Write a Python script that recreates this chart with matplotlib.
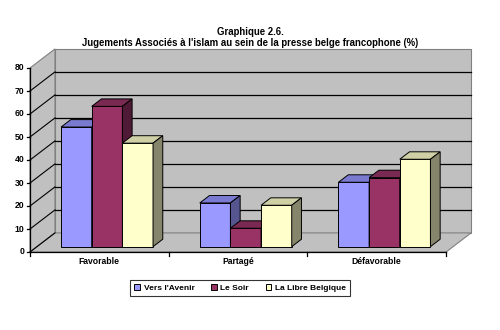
import numpy as np
import matplotlib.pyplot as plt
from matplotlib.patches import Polygon

plt.rcParams['font.family'] = ['Liberation Sans', 'DejaVu Sans']

# données
categories = ['Favorable', 'Partagé', 'Défavorable']
series = ['Vers l\'Avenir', 'Le Soir', 'La Libre Belgique']
vers_avenir = [52, 19, 28]
le_soir = [61, 8, 30]
libre_belgique = [45, 18, 38]
yticks = [0, 10, 20, 30, 40, 50, 60, 70, 80]

values = [vers_avenir, le_soir, libre_belgique]
front_cols = ['#9999FF', '#993366', '#FFFFCC']
top_cols = ['#7A7AD0', '#7A2952', '#D0D0A6']
side_cols = ['#55558F', '#4F1A35', '#85856B']

# géométrie pseudo-3D (unités : catégorie en x, pourcentage en y)
DX, DY = 0.18, 8.3        # profondeur du mur
F0, F1 = 0.28, 0.67       # profondeur des barres (fraction)
W = 0.221                 # largeur d'une barre
YMAX = 80

fig = plt.figure(figsize=(5, 3.3), dpi=100)
ax = fig.add_axes([0, 0, 1, 1])
ax.set_xlim(-30 / 138.7, 470 / 138.7)
ax.set_ylim((252 - 330) / 2.3, 252 / 2.3)
ax.axis('off')

n = len(categories)
wall = '#C0C0C0'
# mur du fond, mur gauche, sol
ax.add_patch(Polygon([(DX, DY), (n + DX, DY), (n + DX, YMAX + DY), (DX, YMAX + DY)],
                     facecolor=wall, edgecolor='#808080', lw=0.8, zorder=1))
ax.add_patch(Polygon([(0, 0), (DX, DY), (DX, YMAX + DY), (0, YMAX)],
                     facecolor=wall, edgecolor='#808080', lw=0.8, zorder=1))
ax.add_patch(Polygon([(0, 0), (n, 0), (n + DX, DY), (DX, DY)],
                     facecolor=wall, edgecolor='#808080', lw=0.8, zorder=1))

for v in yticks[1:-1]:
    ax.plot([DX, n + DX], [v + DY, v + DY], color='black', lw=0.9, zorder=2)
for v in yticks[:-1]:
    ax.plot([0, DX], [v, v + DY], color='black', lw=0.8, zorder=2)

# axe vertical
ax.plot([0, 0], [0, YMAX], color='black', lw=0.9, zorder=2)
for v in yticks:
    ax.plot([-0.025, 0], [v, v], color='black', lw=0.9, zorder=2)
    ax.text(-0.04, v, str(v), ha='right', va='center', fontsize=6.2,
            fontweight='bold')

# axe horizontal
ax.plot([0, n], [0, 0], color='black', lw=0.9, zorder=2)
for i in range(n + 1):
    ax.plot([i, i], [0, -1.6], color='black', lw=0.9, zorder=2)
for i, c in enumerate(categories):
    ax.text(i + 0.5, -4.3, c, ha='center', va='center', fontsize=6.2,
            fontweight='bold')

# barres
x0 = np.arange(n) + 0.5 + 0.0555 - 1.5 * W
base = F0 * DY
ddx = (F1 - F0) * DX
ddy = (F1 - F0) * DY
for k in range(3):
    xs = x0 + k * W
    bars = ax.bar(xs, values[k], width=W, bottom=base, align='edge',
                  color=front_cols[k], edgecolor='black', lw=0.7, zorder=5,
                  label=series[k])
    for x, v in zip(xs, values[k]):
        top = base + v
        ax.add_patch(Polygon([(x, top), (x + W, top), (x + W + ddx, top + ddy),
                              (x + ddx, top + ddy)],
                             facecolor=top_cols[k], edgecolor='black', lw=0.7,
                             zorder=5))
        ax.add_patch(Polygon([(x + W, base), (x + W + ddx, base + ddy),
                              (x + W + ddx, top + ddy), (x + W, top)],
                             facecolor=side_cols[k], edgecolor='black', lw=0.7,
                             zorder=5))

ax.text(0.5, 1 - 32 / 330, 'Graphique 2.6.', transform=ax.transAxes,
        ha='center', va='center', fontsize=6.9, fontweight='bold')
ax.text(0.5, 1 - 43.5 / 330,
        'Jugements Associés à l\'islam au sein de la presse belge francophone (%)',
        transform=ax.transAxes, ha='center', va='center', fontsize=6.9,
        fontweight='bold')

leg = ax.legend(loc='center', bbox_to_anchor=(240 / 500, 1 - 288 / 330),
                ncol=3, frameon=True, fancybox=False,
                handlelength=0.7, handleheight=0.7, handletextpad=0.4,
                columnspacing=2.0, borderpad=0.5, prop={'weight': 'bold', 'size': 6})
leg.get_frame().set_edgecolor('black')
leg.get_frame().set_linewidth(0.8)

fig.savefig('out.png', dpi=100)
